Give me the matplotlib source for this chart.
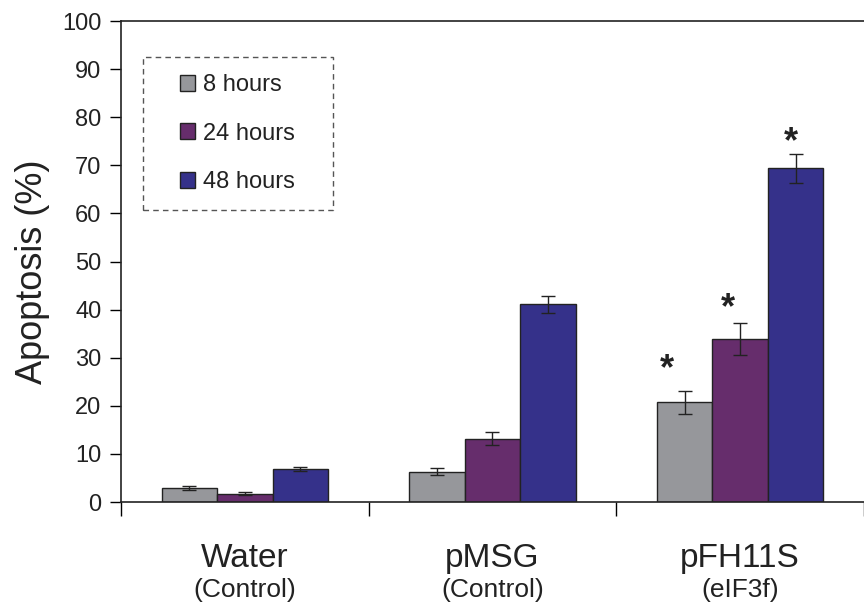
import matplotlib.pyplot as plt
from matplotlib.patches import Rectangle
import numpy as np

plt.rcParams['font.family'] = ['Liberation Sans', 'DejaVu Sans']

# Data
groups = ["Water", "pMSG", "pFH11S"]
subgroups = ["(Control)", "(Control)", "(eIF3f)"]
series = ["8 hours", "24 hours", "48 hours"]
h8 = [3.0, 6.3, 20.7]
h24 = [1.7, 13.2, 33.9]
h48 = [6.9, 41.1, 69.4]
err8 = [0.4, 0.7, 2.3]
err24 = [0.3, 1.3, 3.3]
err48 = [0.4, 1.8, 3.0]
signif8 = [False, False, True]
signif24 = [False, False, True]
signif48 = [False, False, True]
colors = ['#96979b', '#662d6c', '#35318a']

fig = plt.figure(figsize=(8.64, 6.06), dpi=100)
ax = fig.add_axes([0.14, 0.1716, 0.86, 0.7937])

x = np.arange(len(groups)) + 0.5
w = 0.224
vals = [h8, h24, h48]
errs = [err8, err24, err48]
sigs = [signif8, signif24, signif48]
star_dx = [-0.07, -0.05, -0.02]
star_dy = [4.5, 3.0, 2.3]
for i in range(3):
    pos = x + (i - 1) * w
    ax.bar(pos, vals[i], w, color=colors[i], edgecolor='#222222', linewidth=1.0,
           label=series[i], zorder=2)
    ax.errorbar(pos, vals[i], yerr=errs[i], fmt='none', ecolor='#222222',
                elinewidth=1.0, capsize=5, capthick=1.0, zorder=3)
    for p, v, e, s in zip(pos, vals[i], errs[i], sigs[i]):
        if s:
            ax.text(p + star_dx[i], v + e + star_dy[i], '*', ha='center',
                    va='center', fontsize=26, fontweight='bold', color='#222222')

ax.set_ylim(0, 100)
ax.set_xlim(0, 2.978)
ax.set_yticks(np.arange(0, 101, 10))
ax.set_xticks([0, 1, 2, 3])
ax.set_xticklabels([])
ax.tick_params(axis='y', direction='out', length=8, width=1, labelsize=17,
               pad=6, labelcolor='#222222')
ax.tick_params(axis='x', direction='out', length=10, width=1)
ax.spines['right'].set_visible(False)
for s in ['top', 'left', 'bottom']:
    ax.spines[s].set_linewidth(1.2)
    ax.spines[s].set_color('#222222')
ax.set_ylabel("Apoptosis (%)", fontsize=26, color='#222222')
ax.yaxis.set_label_coords(-0.095, 0.478)

for xi, g, sg in zip(x, groups, subgroups):
    ax.text(xi, -8.6, g, ha='center', va='top', fontsize=24, color='#222222',
            clip_on=False)
    ax.text(xi, -15.8, sg, ha='center', va='top', fontsize=19, color='#222222',
            clip_on=False)

# dashed legend frame
ax.add_patch(Rectangle((0.0296, 0.607), 0.2557, 0.318, transform=ax.transAxes,
                       fill=False, edgecolor='#555555', linewidth=1.0,
                       linestyle=(0, (4, 3)), zorder=5))
leg = ax.legend(loc='upper left', bbox_to_anchor=(0.079, 0.89), fontsize=17,
                frameon=False, labelspacing=1.13,
                handlelength=0.65, handleheight=0.65, handletextpad=0.35,
                borderpad=0, borderaxespad=0)
for t in leg.get_texts():
    t.set_color('#222222')

plt.savefig('out.png', dpi=100)
